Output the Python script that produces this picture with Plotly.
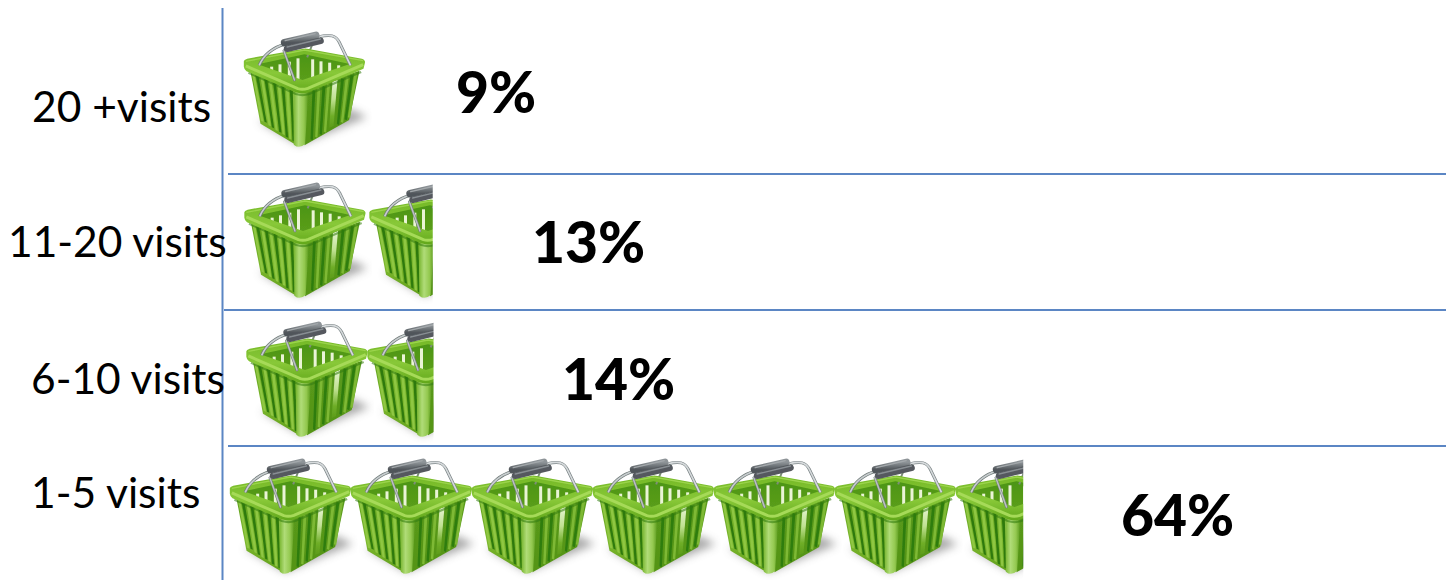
import base64
import plotly.graph_objects as go

# ---- data -------------------------------------------------------------
row_labels = ["20 +visits", "11-20 visits", "6-10 visits", "1-5 visits"]
percent_values = [9, 13, 14, 64]
basket_counts = [1.0, 1.51, 1.55, 6.56]

# ---- layout constants (pixel-mapped axes) -----------------------------
WIDTH, HEIGHT = 1446, 580
row_start = [243.5, 244, 246, 229.5]
row_pitch = [125, 125, 121, 121]
row_top = [30, 181, 320, 457]
label_x = [32, 8, 31, 31]
label_y = [111, 246, 383, 497]
pct_x = [456, 532, 562, 1121]
pct_y = [99, 249, 386, 522]
separators_y = [174, 310, 446]
separators_x0 = [228, 224, 228]
AXIS_COLOR = "#5b86c4"

VB_X, VB_Y, VB_W, VB_H = 40, 30, 400, 370   # drawing units are 1/3 px
PAD = (55 - VB_X) / 3                       # gap between image edge and rim


def slats(stripes, colour, width=8.5, opacity=1):
    out = ""
    for (x1, y1, x2, y2) in stripes:
        out += (f'<polygon points="{x1},{y1} {x1+width},{y1+2} {x2+width-1.5},{y2+3} {x2},{y2}" '
                f'fill="{colour}" opacity="{opacity}"/>')
    return out


def basket_svg(view_w):
    left_dark = [(92, 168, 118, 305), (118, 178, 140, 322), (144, 188, 162, 335),
                 (169, 198, 182, 350), (194, 210, 202, 362)]
    left_light = [(80, 160, 108, 302), (106, 172, 130, 316), (131, 182, 151, 330),
                  (157, 193, 172, 342), (182, 204, 192, 356)]
    right_dark = [(262, 210, 256, 358), (292, 198, 283, 342), (348, 175, 335, 312), (376, 165, 358, 298)]
    right_light = [(277, 204, 270, 350), (306, 192, 296, 335), (362, 170, 347, 306), (388, 158, 368, 292)]
    back = [(135, 140, 135, 165), (160, 133, 160, 172), (188, 125, 188, 180), (214, 115, 214, 188),
            (258, 118, 258, 188), (283, 124, 283, 178), (309, 128, 309, 168), (336, 136, 336, 158)]
    back_svg = "".join(f'<rect x="{a}" y="{b}" width="9" height="{d-b}" fill="#eaf4d6"/>'
                       for a, b, c, d in back)
    svg = f'''<svg xmlns="http://www.w3.org/2000/svg" width="{view_w/3:.2f}" height="{VB_H/3:.2f}"
 viewBox="{VB_X} {VB_Y} {view_w} {VB_H}" preserveAspectRatio="none">
<defs>
<filter id="b" x="-30%" y="-30%" width="160%" height="160%"><feGaussianBlur stdDeviation="13"/></filter>
<filter id="s" x="-10%" y="-10%" width="120%" height="120%"><feGaussianBlur stdDeviation="1.5"/></filter>
<linearGradient id="lf" x1="0" y1="0" x2="0" y2="1"><stop offset="0" stop-color="#5d9f1c"/><stop offset="0.6" stop-color="#7db82f"/><stop offset="1" stop-color="#62a01c"/></linearGradient>
<linearGradient id="rf" x1="0" y1="0" x2="0" y2="1"><stop offset="0" stop-color="#5a9a1c"/><stop offset="1" stop-color="#549416"/></linearGradient>
<linearGradient id="wh" x1="0" y1="0" x2="0" y2="1"><stop offset="0" stop-color="#e6f4d2"/><stop offset="0.4" stop-color="#c0e192"/><stop offset="0.75" stop-color="#6fae28"/><stop offset="1" stop-color="#5c9b1a"/></linearGradient>
<linearGradient id="co" x1="0" y1="0" x2="1" y2="0"><stop offset="0" stop-color="#76b42c"/><stop offset="0.35" stop-color="#b0dc78"/><stop offset="0.7" stop-color="#94c950"/><stop offset="1" stop-color="#579718"/></linearGradient>
<linearGradient id="rim" x1="0" y1="0" x2="0" y2="1"><stop offset="0" stop-color="#74b826"/><stop offset="0.55" stop-color="#88c838"/><stop offset="1" stop-color="#62a81c"/></linearGradient>
<linearGradient id="in" x1="0" y1="0" x2="0" y2="1"><stop offset="0" stop-color="#4a9414"/><stop offset="1" stop-color="#5fa01c"/></linearGradient>
<linearGradient id="gr" x1="0" y1="0" x2="0" y2="1"><stop offset="0" stop-color="#8e9498"/><stop offset="1" stop-color="#50555a"/></linearGradient>
</defs>
<polygon points="100,304 222,376 425,292 380,268" fill="#555" opacity="0.5" filter="url(#b)"/>
<g filter="url(#s)">
<polygon points="70,135 238,92 405,128 225,205" fill="url(#in)"/>
{back_svg}
<path d="M262,72 L246,112" stroke="#7d8f78" stroke-width="6" fill="none"/>
<polygon points="75,150 205,205 208,372 106,311" fill="url(#lf)"/>
<polygon points="240,208 403,152 372,300 238,376" fill="url(#rf)"/>
{slats(left_light, "#8fc743")}
{slats(left_dark, "#2f7a0d")}
{slats(right_dark, "#2f7d10")}
{slats(right_light, "#7eb935")}
<polygon points="322,185 337,180 325,318 312,324" fill="url(#wh)"/>
<path d="M204,206 L250,206 L240,372 Q222,388 206,374 Z" fill="url(#co)"/>
<path d="M70,158 L212,222 Q232,228 252,222 L408,156" stroke="#2f7a0d" stroke-width="7" opacity="0.55" fill="none"/>
<path fill-rule="evenodd" fill="url(#rim)" d="M56,124 Q56,119 66,116 L236,86 Q242,85 250,87 L410,116 Q422,120 419,130 L415,146 L252,216 Q232,223 212,217 L64,154 Q57,149 56,140 Z
M98,133 L238,103 L374,132 L232,180 Z"/>
<path d="M62,138 L218,206 Q232,210 248,205 L414,134" stroke="#a6da58" stroke-width="9" fill="none"/>
<path d="M62,124 L238,90 L414,122" stroke="#9bd44c" stroke-width="4" fill="none"/>
<path d="M176,92 L208,180" stroke="#6f7a78" stroke-width="8" stroke-linecap="round" fill="none"/>
<path d="M176,92 L208,180" stroke="#bcc2c2" stroke-width="4.5" stroke-linecap="round" fill="none"/>
<path d="M102,136 C116,104 140,84 180,72" stroke="#6f7a78" stroke-width="9" fill="none"/>
<path d="M102,136 C116,104 140,84 180,72" stroke="#c8cdcf" stroke-width="5" fill="none"/>
<path d="M283,50 C315,42 332,46 342,66 L376,136" stroke="#7c8587" stroke-width="9" fill="none"/>
<path d="M283,50 C315,42 332,46 342,66 L376,136" stroke="#d6dadc" stroke-width="5" fill="none"/>
<path d="M178,68 L272,46" stroke="url(#gr)" stroke-width="22" stroke-linecap="round"/>
<path d="M186,86 L286,62" stroke="#54595e" stroke-width="20" stroke-linecap="round"/>
<path d="M186,81 L286,57" stroke="#888e93" stroke-width="4" stroke-linecap="round"/>
<path d="M180,62 L270,41" stroke="#a3a8ab" stroke-width="4" stroke-linecap="round"/>
</g>
</svg>'''
    return "data:image/svg+xml;base64," + base64.b64encode(svg.encode()).decode()


images = []
for row, count in enumerate(basket_counts):
    whole = int(count)
    part = count - whole
    for k in range(whole + (1 if part > 1e-9 else 0)):
        visible = (VB_W / 3) if k < whole else (part * row_pitch[row] + PAD)
        images.append(dict(
            source=basket_svg(visible * 3),
            xref="x", yref="y", layer="above",
            x=row_start[row] + k * row_pitch[row] - PAD,
            y=row_top[row],
            sizex=visible, sizey=VB_H / 3,
            xanchor="left", yanchor="top", sizing="stretch",
        ))

fig = go.Figure()
fig.add_trace(go.Scatter(
    x=label_x, y=label_y, text=row_labels, mode="text", textposition="middle right",
    textfont=dict(family="Lato", size=42.5, color="#000000"), hoverinfo="skip", cliponaxis=False,
))
fig.add_trace(go.Scatter(
    x=pct_x, y=pct_y, text=[f"{v}%" for v in percent_values], mode="text", textposition="middle right",
    textfont=dict(family="Lato", size=57, color="#000000", weight=900), hoverinfo="skip", cliponaxis=False,
))

shapes = [dict(type="line", xref="x", yref="y", x0=222.5, x1=222.5, y0=8, y1=HEIGHT,
               line=dict(color=AXIS_COLOR, width=2), layer="below")]
for y, x0 in zip(separators_y, separators_x0):
    shapes.append(dict(type="line", xref="x", yref="y", x0=x0, x1=WIDTH, y0=y, y1=y,
                       line=dict(color=AXIS_COLOR, width=2), layer="below"))

fig.update_layout(
    width=WIDTH, height=HEIGHT, margin=dict(l=0, r=0, t=0, b=0),
    paper_bgcolor="white", plot_bgcolor="white", showlegend=False,
    xaxis=dict(range=[0, WIDTH], visible=False, fixedrange=True),
    yaxis=dict(range=[HEIGHT, 0], visible=False, fixedrange=True),
    images=images, shapes=shapes,
)
fig.write_html(
    "out.html",
    config={"displayModeBar": False},
    post_script="document.body.style.margin='0';document.body.style.overflow='hidden';",
)
